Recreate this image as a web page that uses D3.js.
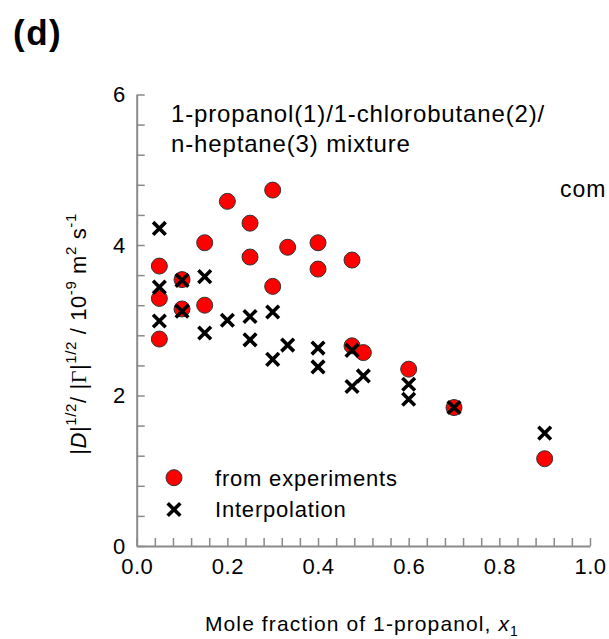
<!DOCTYPE html>
<html>
<head>
<meta charset="utf-8">
<script src="https://cdn.jsdelivr.net/npm/d3@7"></script>
<style>
body { margin: 0; background: #fff; }
text { font-family: Arial, "Liberation Sans", sans-serif; }
</style>
</head>
<body>
<script>
// experimental points (mole fraction x1, value)
var expX = [0.05, 0.05, 0.05, 0.1, 0.1, 0.15, 0.15, 0.2, 0.25, 0.25, 0.3, 0.3, 0.333, 0.4, 0.4, 0.475, 0.475, 0.5, 0.6, 0.7, 0.9];
var expY = [3.72, 3.29, 2.75, 3.54, 3.15, 4.03, 3.20, 4.58, 4.29, 3.84, 4.73, 3.45, 3.97, 4.03, 3.68, 3.80, 2.66, 2.57, 2.35, 1.84, 1.16];

// interpolated points
var intX = [0.05, 0.05, 0.05, 0.1, 0.1, 0.15, 0.15, 0.2, 0.25, 0.25, 0.3, 0.3, 0.333, 0.4, 0.4, 0.475, 0.475, 0.5, 0.6, 0.6, 0.7, 0.9];
var intY = [4.22, 3.44, 2.99, 3.53, 3.12, 3.58, 2.83, 3.00, 3.05, 2.74, 3.11, 2.48, 2.67, 2.63, 2.38, 2.60, 2.12, 2.26, 2.15, 1.95, 1.84, 1.50];

var xTicks = d3.range(0, 26).map(function(i){ return i * 0.04; });
var yTicks = d3.range(0, 16).map(function(i){ return i * 0.4; });
var xLabels = [0, 0.2, 0.4, 0.6, 0.8, 1.0];
var yLabels = [0, 2, 4, 6];

var margin = {top: 94.5, right: 19, bottom: 93, left: 136.7};
var width = 609 - margin.left - margin.right;
var height = 639 - margin.top - margin.bottom;

var xScale = d3.scaleLinear().domain([0, 1]).range([0, width]);
var yScale = d3.scaleLinear().domain([0, 6]).range([height, 0]);

var svg = d3.select("body").append("svg")
.attr("width", 609)
.attr("height", 639);

var mySVG = svg.append("g")
.attr("transform", "translate(" + margin.left + "," + margin.top + ")");

function isLabel(list, d) {
	return list.some(function(v){ return Math.abs(v - d) < 1e-6; });
}

var xAxis = d3.axisBottom(xScale)
.tickValues(xTicks)
.tickSizeInner(-8)
.tickSizeOuter(0)
.tickPadding(11)
.tickFormat(function(d){ return isLabel(xLabels, d) ? d3.format(".1f")(d) : ""; });

var yAxis = d3.axisLeft(yScale)
.tickValues(yTicks)
.tickSizeInner(-8)
.tickSizeOuter(0)
.tickPadding(11)
.tickFormat(function(d){ return isLabel(yLabels, d) ? d3.format("d")(d) : ""; });

var xAxisGroup = mySVG.append("g")
.attr("class","xAxis")
.attr("transform","translate(0,"+height+")")
.call(xAxis);

var yAxisGroup = mySVG.append("g")
.attr("class","yAxis")
.call(yAxis);

[xAxisGroup, yAxisGroup].forEach(function(g){
	g.select(".domain").attr("stroke", "#8a8a8a").attr("stroke-width", 2);
	g.selectAll(".tick line").attr("stroke", "#8a8a8a").attr("stroke-width", 1.5);
	g.selectAll(".tick text").attr("fill", "#000").style("font-size", "22px").style("letter-spacing", "0.5px");
});
xAxisGroup.selectAll(".tick text").attr("dy", "0.75em");

// data points
var expData = expX.map(function(x, i){ return [x, expY[i]]; });
var intData = intX.map(function(x, i){ return [x, intY[i]]; });

mySVG.selectAll("circle.exp")
.data(expData)
.enter()
.append("circle")
.attr("class", "exp")
.attr("cx", function(d){ return xScale(d[0]); })
.attr("cy", function(d){ return yScale(d[1]); })
.attr("r", 8)
.attr("fill", "#ff0000")
.attr("stroke", "#333")
.attr("stroke-width", 1);

function cross(sel, s) {
	sel.append("path")
	.attr("d", "M" + (-s) + "," + (-s) + "L" + s + "," + s + "M" + (-s) + "," + s + "L" + s + "," + (-s))
	.attr("stroke", "#000")
	.attr("stroke-width", 3.6)
	.attr("fill", "none");
}

mySVG.selectAll("g.int")
.data(intData)
.enter()
.append("g")
.attr("class", "int")
.attr("transform", function(d){ return "translate(" + xScale(d[0]) + "," + yScale(d[1]) + ")"; })
.call(cross, 6.3);

// legend
svg.append("circle")
.attr("cx", 174).attr("cy", 477.7).attr("r", 8)
.attr("fill", "#ff0000").attr("stroke", "#333").attr("stroke-width", 1);
svg.append("text").attr("x", 215).attr("y", 485.5)
.style("font-size", "22px").style("letter-spacing", "0.8px").text("from experiments");
svg.append("g").attr("transform", "translate(174,509.5)").call(cross, 6.3);
svg.append("text").attr("x", 215).attr("y", 517)
.style("font-size", "22px").style("letter-spacing", "0.8px").text("Interpolation");

// title and annotations
svg.append("text").attr("x", 13).attr("y", 45)
.style("font-size", "35px").style("font-weight", "bold").style("letter-spacing", "1.5px").text("(d)");

var title = svg.append("text").style("font-size", "24px").style("letter-spacing", "0.85px");
title.append("tspan").attr("x", 171).attr("y", 122).text("1-propanol(1)/1-chlorobutane(2)/");
title.append("tspan").attr("x", 171).attr("y", 152).text("n-heptane(3) mixture");

svg.append("text").attr("x", 560).attr("y", 197)
.style("font-size", "23px").style("letter-spacing", "1px").text("com");

// x axis label
var xl = svg.append("text").attr("x", 205).attr("y", 631)
.style("font-size", "21px").style("letter-spacing", "1.1px");
xl.append("tspan").text("Mole fraction of 1-propanol, ");
xl.append("tspan").style("font-style", "italic").text("x");
xl.append("tspan").attr("dy", 5).style("font-size", "14px").text("1");

// y axis label
var yl = svg.append("text")
.attr("transform", "translate(86,334) rotate(-90)")
.attr("text-anchor", "middle")
.style("font-size", "22px")
.style("letter-spacing", "0.6px");
yl.append("tspan").text("|");
yl.append("tspan").style("font-style", "italic").text("D");
yl.append("tspan").text("|");
yl.append("tspan").attr("dy", -10).style("font-size", "15px").text("1/2");
yl.append("tspan").attr("dy", 10).text("/ |");
yl.append("tspan").style("font-family", "'Liberation Serif', serif").text("Γ");
yl.append("tspan").text("|");
yl.append("tspan").attr("dy", -10).style("font-size", "15px").text("1/2");
yl.append("tspan").attr("dy", 10).text(" / 10");
yl.append("tspan").attr("dy", -10).style("font-size", "15px").text("-9");
yl.append("tspan").attr("dy", 10).text(" m");
yl.append("tspan").attr("dy", -10).style("font-size", "15px").text("2");
yl.append("tspan").attr("dy", 10).text(" s");
yl.append("tspan").attr("dy", -10).style("font-size", "15px").text("-1");
</script>
</body>
</html>
